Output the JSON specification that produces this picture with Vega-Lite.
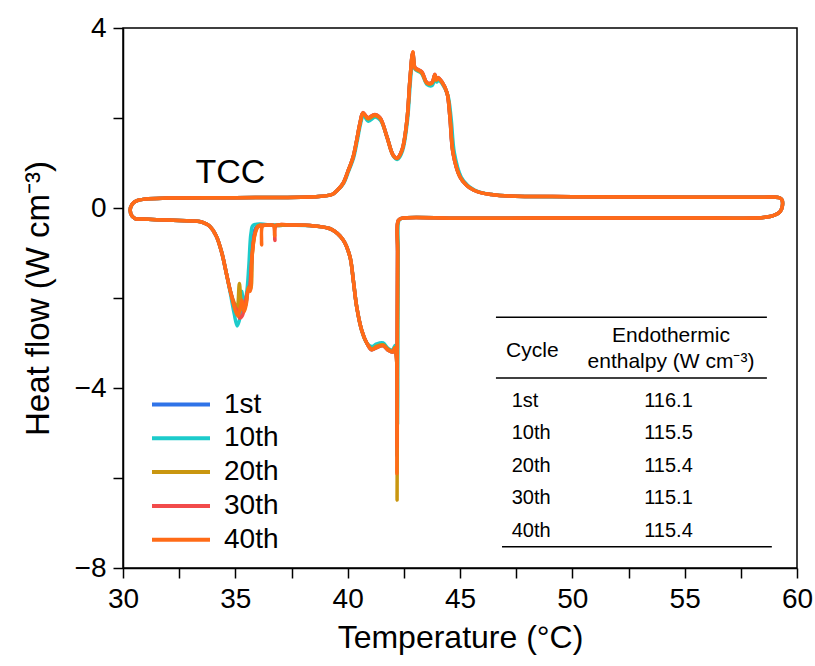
{
"$schema":"https://vega.github.io/schema/vega-lite/v6.json",
"width":674,"height":540,
"autosize":{"type":"none"},
"padding":{"left":123,"top":28,"right":18,"bottom":98},
"config":{"font":"Liberation Sans","view":{"stroke":"black","strokeWidth":1.5},
"axis":{"grid":false,"domainColor":"black","domainWidth":1.5,"tickColor":"black","tickWidth":1.5,"tickSize":10,"labelColor":"black","titleColor":"black","labelFontSize":28,"titleFontSize":32,"titleFontWeight":"normal","labelPadding":7,"labelOverlap":false,"labelFlush":false},
"text":{"font":"Liberation Sans","color":"black"}},
"datasets":{
"curves":[
{"c":"1st","t":30.55,"h":-0.24},{"c":"1st","t":31.5,"h":-0.26},{"c":"1st","t":32.5,"h":-0.28},{"c":"1st","t":33.4,"h":-0.3},{"c":"1st","t":33.6,"h":-0.33},{"c":"1st","t":33.85,"h":-0.4},{"c":"1st","t":34.15,"h":-0.62},{"c":"1st","t":34.4,"h":-1.0},{"c":"1st","t":34.6,"h":-1.45},{"c":"1st","t":34.78,"h":-1.85},
{"c":"1st","t":34.98,"h":-2.2},{"c":"1st","t":35.1,"h":-2.35},{"c":"1st","t":35.2,"h":-2.15},{"c":"1st","t":35.3,"h":-2.0},{"c":"1st","t":35.4,"h":-2.25},{"c":"1st","t":35.5,"h":-2.05},{"c":"1st","t":35.6,"h":-1.7},{"c":"1st","t":35.68,"h":-1.6},{"c":"1st","t":35.75,"h":-0.9},{"c":"1st","t":35.86,"h":-0.5},{"c":"1st","t":36.0,"h":-0.38},{"c":"1st","t":36.5,"h":-0.38},{"c":"1st","t":36.8,"h":-0.39},
{"c":"1st","t":37.5,"h":-0.38},{"c":"1st","t":38.5,"h":-0.4},{"c":"1st","t":39.3,"h":-0.48},{"c":"1st","t":39.8,"h":-0.71},{"c":"1st","t":40.1,"h":-1.08},{"c":"1st","t":40.25,"h":-1.6},{"c":"1st","t":40.4,"h":-2.19},{"c":"1st","t":40.62,"h":-2.71},{"c":"1st","t":40.85,"h":-3.0},{"c":"1st","t":41.07,"h":-3.15},{"c":"1st","t":41.29,"h":-3.1},{"c":"1st","t":41.58,"h":-3.06},{"c":"1st","t":41.8,"h":-3.16},{"c":"1st","t":42.0,"h":-3.2},{"c":"1st","t":42.1,"h":-3.12},{"c":"1st","t":42.17,"h":-3.3},
{"c":"1st","t":42.19,"h":-5.5},{"c":"1st","t":42.22,"h":-1.0},{"c":"1st","t":42.25,"h":-0.28},
{"c":"1st","t":42.4,"h":-0.23},{"c":"1st","t":45,"h":-0.23},{"c":"1st","t":50,"h":-0.22},{"c":"1st","t":55,"h":-0.22},{"c":"1st","t":58.5,"h":-0.21},{"c":"1st","t":59.0,"h":-0.16},{"c":"1st","t":59.25,"h":-0.08},{"c":"1st","t":59.35,"h":0.05},{"c":"1st","t":59.33,"h":0.18},{"c":"1st","t":59.2,"h":0.23},{"c":"1st","t":58.5,"h":0.24},{"c":"1st","t":55,"h":0.24},{"c":"1st","t":50,"h":0.25},{"c":"1st","t":47,"h":0.27},{"c":"1st","t":46.4,"h":0.3},{"c":"1st","t":46.0,"h":0.33},{"c":"1st","t":45.6,"h":0.4},{"c":"1st","t":45.3,"h":0.5},{"c":"1st","t":45.0,"h":0.69},{"c":"1st","t":44.69,"h":1.22},{"c":"1st","t":44.55,"h":2.02},{"c":"1st","t":44.42,"h":2.56},{"c":"1st","t":44.2,"h":2.8},{"c":"1st","t":44.02,"h":2.89},{"c":"1st","t":43.95,"h":2.85},{"c":"1st","t":43.88,"h":2.96},{"c":"1st","t":43.75,"h":2.78},{"c":"1st","t":43.53,"h":2.78},{"c":"1st","t":43.3,"h":3.02},{"c":"1st","t":43.13,"h":3.07},{"c":"1st","t":43.0,"h":3.11},{"c":"1st","t":42.9,"h":3.45},{"c":"1st","t":42.77,"h":2.84},{"c":"1st","t":42.64,"h":1.96},{"c":"1st","t":42.42,"h":1.29},{"c":"1st","t":42.2,"h":1.11},{"c":"1st","t":42.02,"h":1.18},{"c":"1st","t":41.75,"h":1.58},{"c":"1st","t":41.44,"h":2.0},{"c":"1st","t":41.2,"h":2.07},{"c":"1st","t":40.9,"h":2.0},{"c":"1st","t":40.68,"h":2.11},{"c":"1st","t":40.55,"h":1.89},{"c":"1st","t":40.4,"h":1.5},{"c":"1st","t":40.24,"h":1.13},{"c":"1st","t":40.0,"h":0.8},{"c":"1st","t":39.8,"h":0.55},{"c":"1st","t":39.55,"h":0.4},{"c":"1st","t":39.3,"h":0.3},{"c":"1st","t":38.5,"h":0.25},{"c":"1st","t":35,"h":0.23},{"c":"1st","t":32,"h":0.22},{"c":"1st","t":31,"h":0.2},{"c":"1st","t":30.6,"h":0.16},{"c":"1st","t":30.4,"h":0.08},{"c":"1st","t":30.32,"h":-0.05},{"c":"1st","t":30.4,"h":-0.18},{"c":"1st","t":30.55,"h":-0.24},

{"c":"10th","t":30.55,"h":-0.24},{"c":"10th","t":31.5,"h":-0.26},{"c":"10th","t":32.5,"h":-0.28},{"c":"10th","t":33.4,"h":-0.3},{"c":"10th","t":33.6,"h":-0.33},{"c":"10th","t":33.85,"h":-0.4},{"c":"10th","t":34.15,"h":-0.62},{"c":"10th","t":34.4,"h":-1.0},{"c":"10th","t":34.6,"h":-1.45},{"c":"10th","t":34.78,"h":-1.9},
{"c":"10th","t":34.95,"h":-2.35},{"c":"10th","t":35.08,"h":-2.62},{"c":"10th","t":35.2,"h":-2.45},{"c":"10th","t":35.28,"h":-1.85},{"c":"10th","t":35.38,"h":-2.15},{"c":"10th","t":35.5,"h":-1.9},{"c":"10th","t":35.6,"h":-1.3},{"c":"10th","t":35.7,"h":-0.55},{"c":"10th","t":35.8,"h":-0.38},{"c":"10th","t":36.5,"h":-0.37},{"c":"10th","t":36.8,"h":-0.38},
{"c":"10th","t":37.5,"h":-0.38},{"c":"10th","t":38.5,"h":-0.4},{"c":"10th","t":39.3,"h":-0.48},{"c":"10th","t":39.8,"h":-0.71},{"c":"10th","t":40.1,"h":-1.08},{"c":"10th","t":40.25,"h":-1.6},{"c":"10th","t":40.4,"h":-2.19},{"c":"10th","t":40.62,"h":-2.71},{"c":"10th","t":40.85,"h":-3.0},{"c":"10th","t":41.07,"h":-3.08},{"c":"10th","t":41.29,"h":-3.02},{"c":"10th","t":41.58,"h":-3.0},{"c":"10th","t":41.8,"h":-3.12},{"c":"10th","t":42.0,"h":-3.15},{"c":"10th","t":42.12,"h":-3.05},{"c":"10th","t":42.2,"h":-3.25},
{"c":"10th","t":42.22,"h":-4.8},{"c":"10th","t":42.25,"h":-1.0},{"c":"10th","t":42.28,"h":-0.28},
{"c":"10th","t":42.4,"h":-0.23},{"c":"10th","t":45,"h":-0.23},{"c":"10th","t":50,"h":-0.22},{"c":"10th","t":55,"h":-0.22},{"c":"10th","t":58.5,"h":-0.21},{"c":"10th","t":59.0,"h":-0.16},{"c":"10th","t":59.25,"h":-0.08},{"c":"10th","t":59.35,"h":0.05},{"c":"10th","t":59.33,"h":0.18},{"c":"10th","t":59.2,"h":0.23},{"c":"10th","t":58.5,"h":0.24},{"c":"10th","t":55,"h":0.24},{"c":"10th","t":50,"h":0.25},{"c":"10th","t":47,"h":0.27},{"c":"10th","t":46.45,"h":0.3},{"c":"10th","t":46.05,"h":0.33},{"c":"10th","t":45.65,"h":0.4},{"c":"10th","t":45.35,"h":0.5},{"c":"10th","t":45.05,"h":0.69},{"c":"10th","t":44.75,"h":1.22},{"c":"10th","t":44.6,"h":2.02},{"c":"10th","t":44.46,"h":2.5},{"c":"10th","t":44.22,"h":2.75},{"c":"10th","t":44.04,"h":2.84},{"c":"10th","t":43.96,"h":2.8},{"c":"10th","t":43.89,"h":2.9},{"c":"10th","t":43.76,"h":2.72},{"c":"10th","t":43.54,"h":2.74},{"c":"10th","t":43.3,"h":2.98},{"c":"10th","t":43.13,"h":3.04},{"c":"10th","t":43.0,"h":3.08},{"c":"10th","t":42.91,"h":3.4},{"c":"10th","t":42.79,"h":2.8},{"c":"10th","t":42.66,"h":1.94},{"c":"10th","t":42.44,"h":1.27},{"c":"10th","t":42.22,"h":1.08},{"c":"10th","t":42.04,"h":1.15},{"c":"10th","t":41.77,"h":1.55},{"c":"10th","t":41.46,"h":1.95},{"c":"10th","t":41.22,"h":2.02},{"c":"10th","t":40.92,"h":1.93},{"c":"10th","t":40.7,"h":2.06},{"c":"10th","t":40.57,"h":1.86},{"c":"10th","t":40.42,"h":1.48},{"c":"10th","t":40.26,"h":1.11},{"c":"10th","t":40.02,"h":0.79},{"c":"10th","t":39.82,"h":0.55},{"c":"10th","t":39.56,"h":0.4},{"c":"10th","t":39.3,"h":0.3},{"c":"10th","t":38.5,"h":0.25},{"c":"10th","t":35,"h":0.23},{"c":"10th","t":32,"h":0.22},{"c":"10th","t":31,"h":0.2},{"c":"10th","t":30.6,"h":0.16},{"c":"10th","t":30.4,"h":0.08},{"c":"10th","t":30.32,"h":-0.05},{"c":"10th","t":30.4,"h":-0.18},{"c":"10th","t":30.55,"h":-0.24},

{"c":"20th","t":30.55,"h":-0.24},{"c":"20th","t":31.5,"h":-0.26},{"c":"20th","t":32.5,"h":-0.28},{"c":"20th","t":33.4,"h":-0.3},{"c":"20th","t":33.6,"h":-0.33},{"c":"20th","t":33.85,"h":-0.4},{"c":"20th","t":34.15,"h":-0.62},{"c":"20th","t":34.4,"h":-1.0},{"c":"20th","t":34.6,"h":-1.45},{"c":"20th","t":34.78,"h":-1.85},
{"c":"20th","t":34.98,"h":-2.15},{"c":"20th","t":35.08,"h":-2.25},{"c":"20th","t":35.18,"h":-1.68},{"c":"20th","t":35.28,"h":-2.2},{"c":"20th","t":35.38,"h":-2.3},{"c":"20th","t":35.5,"h":-2.0},{"c":"20th","t":35.6,"h":-1.75},{"c":"20th","t":35.68,"h":-1.8},{"c":"20th","t":35.76,"h":-1.0},{"c":"20th","t":35.88,"h":-0.55},{"c":"20th","t":36.0,"h":-0.4},{"c":"20th","t":36.5,"h":-0.38},{"c":"20th","t":36.8,"h":-0.39},
{"c":"20th","t":37.5,"h":-0.38},{"c":"20th","t":38.5,"h":-0.4},{"c":"20th","t":39.3,"h":-0.48},{"c":"20th","t":39.8,"h":-0.71},{"c":"20th","t":40.1,"h":-1.08},{"c":"20th","t":40.25,"h":-1.6},{"c":"20th","t":40.4,"h":-2.19},{"c":"20th","t":40.62,"h":-2.71},{"c":"20th","t":40.85,"h":-3.0},{"c":"20th","t":41.07,"h":-3.13},{"c":"20th","t":41.29,"h":-3.07},{"c":"20th","t":41.58,"h":-3.04},{"c":"20th","t":41.8,"h":-3.14},{"c":"20th","t":42.0,"h":-3.18},{"c":"20th","t":42.1,"h":-3.1},{"c":"20th","t":42.17,"h":-3.3},
{"c":"20th","t":42.2,"h":-6.49},{"c":"20th","t":42.23,"h":-1.0},{"c":"20th","t":42.26,"h":-0.28},
{"c":"20th","t":42.4,"h":-0.23},{"c":"20th","t":45,"h":-0.23},{"c":"20th","t":50,"h":-0.22},{"c":"20th","t":55,"h":-0.22},{"c":"20th","t":58.5,"h":-0.21},{"c":"20th","t":59.0,"h":-0.16},{"c":"20th","t":59.25,"h":-0.08},{"c":"20th","t":59.35,"h":0.05},{"c":"20th","t":59.33,"h":0.18},{"c":"20th","t":59.2,"h":0.23},{"c":"20th","t":58.5,"h":0.24},{"c":"20th","t":55,"h":0.24},{"c":"20th","t":50,"h":0.25},{"c":"20th","t":47,"h":0.27},{"c":"20th","t":46.4,"h":0.3},{"c":"20th","t":46.0,"h":0.33},{"c":"20th","t":45.6,"h":0.4},{"c":"20th","t":45.3,"h":0.5},{"c":"20th","t":45.0,"h":0.69},{"c":"20th","t":44.7,"h":1.22},{"c":"20th","t":44.56,"h":2.02},{"c":"20th","t":44.43,"h":2.55},{"c":"20th","t":44.2,"h":2.79},{"c":"20th","t":44.02,"h":2.88},{"c":"20th","t":43.95,"h":2.84},{"c":"20th","t":43.88,"h":2.95},{"c":"20th","t":43.75,"h":2.77},{"c":"20th","t":43.53,"h":2.77},{"c":"20th","t":43.3,"h":3.0},{"c":"20th","t":43.13,"h":3.06},{"c":"20th","t":43.0,"h":3.1},{"c":"20th","t":42.9,"h":3.44},{"c":"20th","t":42.77,"h":2.83},{"c":"20th","t":42.64,"h":1.95},{"c":"20th","t":42.42,"h":1.28},{"c":"20th","t":42.2,"h":1.1},{"c":"20th","t":42.02,"h":1.17},{"c":"20th","t":41.75,"h":1.57},{"c":"20th","t":41.44,"h":1.99},{"c":"20th","t":41.2,"h":2.05},{"c":"20th","t":40.9,"h":1.98},{"c":"20th","t":40.68,"h":2.1},{"c":"20th","t":40.55,"h":1.88},{"c":"20th","t":40.4,"h":1.5},{"c":"20th","t":40.24,"h":1.13},{"c":"20th","t":40.0,"h":0.8},{"c":"20th","t":39.8,"h":0.55},{"c":"20th","t":39.55,"h":0.4},{"c":"20th","t":39.3,"h":0.3},{"c":"20th","t":38.5,"h":0.25},{"c":"20th","t":35,"h":0.23},{"c":"20th","t":32,"h":0.22},{"c":"20th","t":31,"h":0.2},{"c":"20th","t":30.6,"h":0.16},{"c":"20th","t":30.4,"h":0.08},{"c":"20th","t":30.32,"h":-0.05},{"c":"20th","t":30.4,"h":-0.18},{"c":"20th","t":30.55,"h":-0.24},

{"c":"30th","t":30.55,"h":-0.24},{"c":"30th","t":31.5,"h":-0.26},{"c":"30th","t":32.5,"h":-0.28},{"c":"30th","t":33.4,"h":-0.3},{"c":"30th","t":33.6,"h":-0.33},{"c":"30th","t":33.85,"h":-0.4},{"c":"30th","t":34.15,"h":-0.62},{"c":"30th","t":34.4,"h":-1.0},{"c":"30th","t":34.6,"h":-1.45},{"c":"30th","t":34.78,"h":-1.85},
{"c":"30th","t":34.98,"h":-2.2},{"c":"30th","t":35.1,"h":-2.3},{"c":"30th","t":35.2,"h":-2.45},{"c":"30th","t":35.3,"h":-2.4},{"c":"30th","t":35.42,"h":-2.2},{"c":"30th","t":35.52,"h":-1.9},{"c":"30th","t":35.62,"h":-1.8},{"c":"30th","t":35.72,"h":-1.2},{"c":"30th","t":35.85,"h":-0.6},{"c":"30th","t":36.0,"h":-0.42},{"c":"30th","t":36.5,"h":-0.38},{"c":"30th","t":36.7,"h":-0.39},{"c":"30th","t":36.76,"h":-0.72},{"c":"30th","t":36.82,"h":-0.39},
{"c":"30th","t":37.5,"h":-0.38},{"c":"30th","t":38.5,"h":-0.4},{"c":"30th","t":39.3,"h":-0.48},{"c":"30th","t":39.8,"h":-0.71},{"c":"30th","t":40.1,"h":-1.08},{"c":"30th","t":40.25,"h":-1.6},{"c":"30th","t":40.4,"h":-2.19},{"c":"30th","t":40.62,"h":-2.71},{"c":"30th","t":40.85,"h":-3.0},{"c":"30th","t":41.07,"h":-3.15},{"c":"30th","t":41.29,"h":-3.1},{"c":"30th","t":41.58,"h":-3.06},{"c":"30th","t":41.8,"h":-3.16},{"c":"30th","t":42.0,"h":-3.2},{"c":"30th","t":42.1,"h":-3.12},{"c":"30th","t":42.17,"h":-3.3},
{"c":"30th","t":42.19,"h":-5.3},{"c":"30th","t":42.22,"h":-1.0},{"c":"30th","t":42.25,"h":-0.28},
{"c":"30th","t":42.4,"h":-0.23},{"c":"30th","t":45,"h":-0.23},{"c":"30th","t":50,"h":-0.22},{"c":"30th","t":55,"h":-0.22},{"c":"30th","t":58.5,"h":-0.21},{"c":"30th","t":59.0,"h":-0.16},{"c":"30th","t":59.25,"h":-0.08},{"c":"30th","t":59.35,"h":0.05},{"c":"30th","t":59.33,"h":0.18},{"c":"30th","t":59.2,"h":0.23},{"c":"30th","t":58.5,"h":0.24},{"c":"30th","t":55,"h":0.24},{"c":"30th","t":50,"h":0.25},{"c":"30th","t":47,"h":0.27},{"c":"30th","t":46.4,"h":0.3},{"c":"30th","t":46.0,"h":0.33},{"c":"30th","t":45.6,"h":0.4},{"c":"30th","t":45.3,"h":0.5},{"c":"30th","t":45.0,"h":0.69},{"c":"30th","t":44.69,"h":1.22},{"c":"30th","t":44.55,"h":2.02},{"c":"30th","t":44.42,"h":2.56},{"c":"30th","t":44.2,"h":2.8},{"c":"30th","t":44.02,"h":2.9},{"c":"30th","t":43.95,"h":2.86},{"c":"30th","t":43.88,"h":2.97},{"c":"30th","t":43.75,"h":2.79},{"c":"30th","t":43.53,"h":2.79},{"c":"30th","t":43.3,"h":3.03},{"c":"30th","t":43.13,"h":3.08},{"c":"30th","t":43.0,"h":3.12},{"c":"30th","t":42.9,"h":3.46},{"c":"30th","t":42.77,"h":2.84},{"c":"30th","t":42.64,"h":1.96},{"c":"30th","t":42.42,"h":1.29},{"c":"30th","t":42.2,"h":1.11},{"c":"30th","t":42.02,"h":1.18},{"c":"30th","t":41.75,"h":1.58},{"c":"30th","t":41.44,"h":2.01},{"c":"30th","t":41.2,"h":2.08},{"c":"30th","t":40.9,"h":2.01},{"c":"30th","t":40.68,"h":2.12},{"c":"30th","t":40.55,"h":1.89},{"c":"30th","t":40.4,"h":1.5},{"c":"30th","t":40.24,"h":1.13},{"c":"30th","t":40.0,"h":0.8},{"c":"30th","t":39.8,"h":0.55},{"c":"30th","t":39.55,"h":0.4},{"c":"30th","t":39.3,"h":0.3},{"c":"30th","t":38.5,"h":0.25},{"c":"30th","t":35,"h":0.23},{"c":"30th","t":32,"h":0.22},{"c":"30th","t":31,"h":0.2},{"c":"30th","t":30.6,"h":0.16},{"c":"30th","t":30.4,"h":0.08},{"c":"30th","t":30.32,"h":-0.05},{"c":"30th","t":30.4,"h":-0.18},{"c":"30th","t":30.55,"h":-0.24},

{"c":"40th","t":30.55,"h":-0.24},{"c":"40th","t":31.5,"h":-0.26},{"c":"40th","t":32.5,"h":-0.28},{"c":"40th","t":33.4,"h":-0.3},{"c":"40th","t":33.6,"h":-0.33},{"c":"40th","t":33.85,"h":-0.4},{"c":"40th","t":34.15,"h":-0.62},{"c":"40th","t":34.4,"h":-1.0},{"c":"40th","t":34.6,"h":-1.45},{"c":"40th","t":34.78,"h":-1.85},
{"c":"40th","t":34.98,"h":-2.25},{"c":"40th","t":35.12,"h":-2.4},{"c":"40th","t":35.22,"h":-2.2},{"c":"40th","t":35.3,"h":-2.05},{"c":"40th","t":35.4,"h":-2.3},{"c":"40th","t":35.5,"h":-2.1},{"c":"40th","t":35.58,"h":-1.78},{"c":"40th","t":35.66,"h":-1.85},{"c":"40th","t":35.74,"h":-1.1},{"c":"40th","t":35.86,"h":-0.62},{"c":"40th","t":36.0,"h":-0.42},{"c":"40th","t":36.12,"h":-0.38},{"c":"40th","t":36.17,"h":-0.82},{"c":"40th","t":36.22,"h":-0.4},{"c":"40th","t":36.5,"h":-0.38},{"c":"40th","t":36.7,"h":-0.39},{"c":"40th","t":36.75,"h":-0.62},{"c":"40th","t":36.8,"h":-0.39},
{"c":"40th","t":37.5,"h":-0.38},{"c":"40th","t":38.5,"h":-0.4},{"c":"40th","t":39.3,"h":-0.48},{"c":"40th","t":39.8,"h":-0.71},{"c":"40th","t":40.1,"h":-1.08},{"c":"40th","t":40.25,"h":-1.6},{"c":"40th","t":40.4,"h":-2.19},{"c":"40th","t":40.62,"h":-2.71},{"c":"40th","t":40.85,"h":-3.0},{"c":"40th","t":41.07,"h":-3.15},{"c":"40th","t":41.29,"h":-3.1},{"c":"40th","t":41.58,"h":-3.06},{"c":"40th","t":41.8,"h":-3.16},{"c":"40th","t":42.0,"h":-3.2},{"c":"40th","t":42.1,"h":-3.12},{"c":"40th","t":42.17,"h":-3.3},
{"c":"40th","t":42.19,"h":-5.9},{"c":"40th","t":42.22,"h":-1.0},{"c":"40th","t":42.25,"h":-0.28},
{"c":"40th","t":42.4,"h":-0.23},{"c":"40th","t":45,"h":-0.23},{"c":"40th","t":50,"h":-0.22},{"c":"40th","t":55,"h":-0.22},{"c":"40th","t":58.5,"h":-0.21},{"c":"40th","t":59.0,"h":-0.16},{"c":"40th","t":59.25,"h":-0.08},{"c":"40th","t":59.35,"h":0.05},{"c":"40th","t":59.33,"h":0.18},{"c":"40th","t":59.2,"h":0.23},{"c":"40th","t":58.5,"h":0.24},{"c":"40th","t":55,"h":0.24},{"c":"40th","t":50,"h":0.25},{"c":"40th","t":47,"h":0.27},{"c":"40th","t":46.4,"h":0.3},{"c":"40th","t":46.0,"h":0.33},{"c":"40th","t":45.6,"h":0.4},{"c":"40th","t":45.3,"h":0.5},{"c":"40th","t":45.0,"h":0.69},{"c":"40th","t":44.69,"h":1.22},{"c":"40th","t":44.55,"h":2.02},{"c":"40th","t":44.42,"h":2.56},{"c":"40th","t":44.2,"h":2.8},{"c":"40th","t":44.02,"h":2.89},{"c":"40th","t":43.95,"h":2.85},{"c":"40th","t":43.88,"h":2.96},{"c":"40th","t":43.75,"h":2.78},{"c":"40th","t":43.53,"h":2.78},{"c":"40th","t":43.3,"h":3.02},{"c":"40th","t":43.13,"h":3.07},{"c":"40th","t":43.0,"h":3.11},{"c":"40th","t":42.9,"h":3.47},{"c":"40th","t":42.77,"h":2.84},{"c":"40th","t":42.64,"h":1.96},{"c":"40th","t":42.42,"h":1.29},{"c":"40th","t":42.2,"h":1.11},{"c":"40th","t":42.02,"h":1.18},{"c":"40th","t":41.75,"h":1.58},{"c":"40th","t":41.44,"h":2.0},{"c":"40th","t":41.2,"h":2.07},{"c":"40th","t":40.9,"h":2.0},{"c":"40th","t":40.68,"h":2.11},{"c":"40th","t":40.55,"h":1.89},{"c":"40th","t":40.4,"h":1.5},{"c":"40th","t":40.24,"h":1.13},{"c":"40th","t":40.0,"h":0.8},{"c":"40th","t":39.8,"h":0.55},{"c":"40th","t":39.55,"h":0.4},{"c":"40th","t":39.3,"h":0.3},{"c":"40th","t":38.5,"h":0.25},{"c":"40th","t":35,"h":0.23},{"c":"40th","t":32,"h":0.22},{"c":"40th","t":31,"h":0.2},{"c":"40th","t":30.6,"h":0.16},{"c":"40th","t":30.4,"h":0.08},{"c":"40th","t":30.32,"h":-0.05},{"c":"40th","t":30.4,"h":-0.18},{"c":"40th","t":30.55,"h":-0.24}
],
"table":[
{"cycle":"1st","enthalpy":"116.1"},
{"cycle":"10th","enthalpy":"115.5"},
{"cycle":"20th","enthalpy":"115.4"},
{"cycle":"30th","enthalpy":"115.1"},
{"cycle":"40th","enthalpy":"115.4"}
]},
"layer":[
{"data":{"name":"curves"},
"mark":{"type":"line","strokeWidth":3.5,"interpolate":"catmull-rom","strokeJoin":"round","strokeCap":"round"},
"encoding":{
"x":{"field":"t","type":"quantitative","scale":{"domain":[30,60],"nice":false,"zero":false},
"axis":{"title":"Temperature (°C)","values":[30,32.5,35,37.5,40,42.5,45,47.5,50,52.5,55,57.5,60],"format":"d","labelExpr":"datum.value % 5 === 0 ? datum.label : ''","titlePadding":9}},
"y":{"field":"h","type":"quantitative","scale":{"domain":[-8,4],"nice":false,"zero":false},
"axis":{"title":"Heat flow (W cm⁻³)","titleFontSize":33,"values":[-8,-6,-4,-2,0,2,4],"format":"d","labelExpr":"datum.value % 4 === 0 ? datum.label : ''","titlePadding":19}},
"color":{"field":"c","type":"nominal","scale":{"domain":["1st","10th","20th","30th","40th"],"range":["#2F73E8","#1CCBCB","#C9960F","#F24B4B","#FF6B17"]},
"legend":{"orient":"none","legendX":27,"legendY":363,"title":null,"padding":0,"offset":0,"labelFontSize":28,"labelColor":"black","symbolType":"stroke","symbolSize":3364,"symbolStrokeWidth":4,"clipHeight":27,"rowPadding":4.8,"labelOffset":12}},
"order":{"value":null}}},
{"data":{"values":[{}]},"mark":{"type":"text","text":"TCC","fontSize":34,"align":"center","baseline":"alphabetic"},
"encoding":{"x":{"datum":34.78},"y":{"datum":0.556}}},
{"data":{"values":[{}]},"mark":{"type":"rule","color":"black","strokeWidth":1.5},"encoding":{"x":{"datum":46.6},"x2":{"datum":58.66},"y":{"datum":-2.43}}},
{"data":{"values":[{}]},"mark":{"type":"rule","color":"black","strokeWidth":1.5},"encoding":{"x":{"datum":46.6},"x2":{"datum":58.66},"y":{"datum":-3.78}}},
{"data":{"values":[{}]},"mark":{"type":"rule","color":"black","strokeWidth":1.5},"encoding":{"x":{"datum":46.87},"x2":{"datum":58.88},"y":{"datum":-7.53}}},
{"data":{"values":[{}]},"mark":{"type":"text","text":"Cycle","fontSize":21,"align":"left","baseline":"alphabetic"},"encoding":{"x":{"datum":47.05},"y":{"datum":-3.3}}},
{"data":{"values":[{}]},"mark":{"type":"text","text":"Endothermic","fontSize":21,"align":"center","baseline":"alphabetic"},"encoding":{"x":{"datum":54.39},"y":{"datum":-2.97}}},
{"data":{"values":[{}]},"mark":{"type":"text","text":"enthalpy (W cm⁻³)","fontSize":21,"align":"center","baseline":"alphabetic"},"encoding":{"x":{"datum":54.39},"y":{"datum":-3.56}}},
{"data":{"name":"table"},"mark":{"type":"text","fontSize":20,"align":"left","baseline":"alphabetic"},
"encoding":{"x":{"datum":47.3},"y":{"datum":-4.42},"yOffset":{"field":"cycle","type":"nominal","scale":{"type":"point","domain":["1st","10th","20th","30th","40th"],"range":[0,130],"padding":0}},"text":{"field":"cycle"}}},
{"data":{"name":"table"},"mark":{"type":"text","fontSize":20,"align":"center","baseline":"alphabetic"},
"encoding":{"x":{"datum":54.28},"y":{"datum":-4.42},"yOffset":{"field":"cycle","type":"nominal","scale":{"type":"point","domain":["1st","10th","20th","30th","40th"],"range":[0,130],"padding":0}},"text":{"field":"enthalpy"}}}
]
}
